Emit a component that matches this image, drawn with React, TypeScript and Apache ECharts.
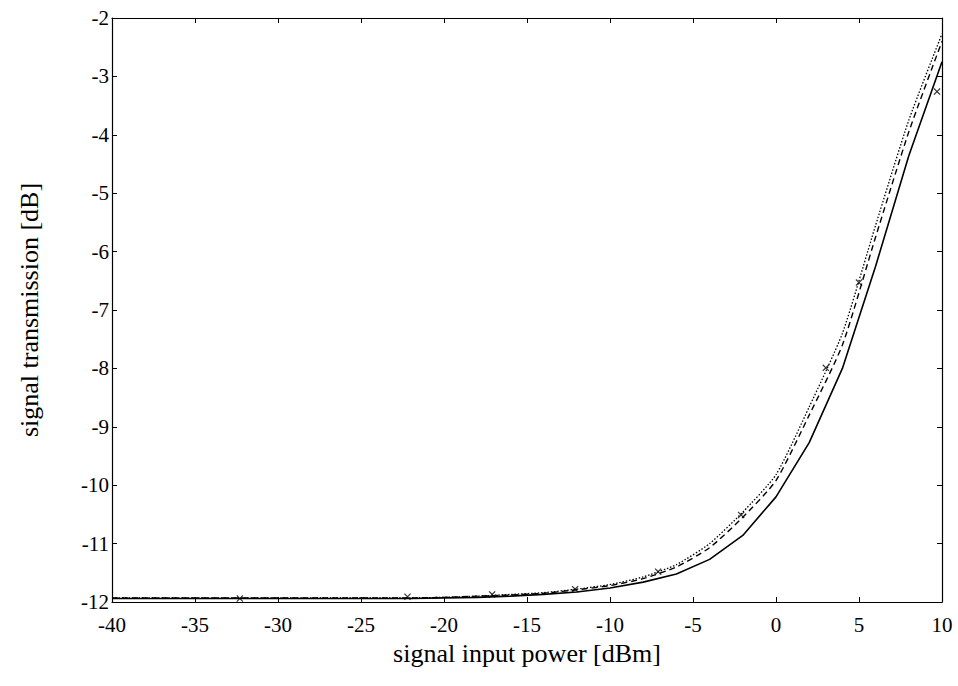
import React, { useEffect, useRef } from "react";
import * as echarts from "echarts";

const xSolid = [-40, -38, -36, -34, -32, -30, -28, -26, -24, -22, -20, -18, -16, -14, -12, -10, -8, -6, -4, -2, 0, 2, 4, 6, 8, 10];
const ySolid = [-11.94, -11.94, -11.94, -11.94, -11.94, -11.94, -11.94, -11.94, -11.94, -11.94, -11.93, -11.92, -11.9, -11.87, -11.83, -11.76, -11.66, -11.52, -11.27, -10.86, -10.2, -9.27, -8.0, -6.25, -4.36, -2.75];
const yDashed = [-11.93, -11.93, -11.93, -11.93, -11.93, -11.93, -11.93, -11.93, -11.93, -11.93, -11.92, -11.9, -11.88, -11.85, -11.79, -11.72, -11.6, -11.4, -11.07, -10.55, -9.92, -8.8, -7.6, -5.75, -3.95, -2.4];
const yDotted = [-11.93, -11.93, -11.93, -11.93, -11.93, -11.93, -11.93, -11.93, -11.93, -11.93, -11.92, -11.9, -11.87, -11.84, -11.78, -11.7, -11.57, -11.36, -11.0, -10.46, -9.82, -8.66, -7.4, -5.55, -3.75, -2.27];
const xMarks = [-32.3, -22.2, -17.1, -12.1, -7.1, -2.1, 3.0, 5.0, 9.7];
const yMarks = [-11.94, -11.91, -11.87, -11.78, -11.48, -10.51, -7.99, -6.53, -3.26];

const xTitle = "signal input power [dBm]";
const yTitle = "signal transmission [dB]";

const FONT = "Liberation Serif";
const cross = "path://M0,1.2L1.2,0L5,3.8L8.8,0L10,1.2L6.2,5L10,8.8L8.8,10L5,6.2L1.2,10L0,8.8L3.8,5Z";

const pairs = (xs: number[], ys: number[]) => xs.map((x, i) => [x, ys[i]]);

export default function App() {
  const ref = useRef<HTMLDivElement>(null);
  useEffect(() => {
    if (!ref.current) return;
    const chart = echarts.init(ref.current, null, { renderer: "svg" });
    const axisCommon = {
      axisLine: { show: true, onZero: false, lineStyle: { color: "#000", width: 1.2 } },
      axisTick: { show: true, inside: true, length: 5, lineStyle: { color: "#000" } },
      splitLine: { show: false },
    };
    chart.setOption({
      animation: false,
      backgroundColor: "#fff",
      grid: { left: 112, right: 16, top: 18, bottom: 84, containLabel: false },
      xAxis: [
        {
          type: "value", min: -40, max: 10, interval: 5, position: "bottom",
          ...axisCommon,
          axisLabel: { color: "#000", fontFamily: FONT, fontSize: 21, margin: 12 },
          name: xTitle, nameLocation: "middle", nameGap: 38,
          nameTextStyle: { color: "#000", fontFamily: FONT, fontSize: 26 },
        },
        {
          type: "value", min: -40, max: 10, interval: 5, position: "top",
          ...axisCommon, axisLabel: { show: false },
        },
      ],
      yAxis: [
        {
          type: "value", min: -12, max: -2, interval: 1, position: "left",
          ...axisCommon,
          axisLabel: { color: "#000", fontFamily: FONT, fontSize: 21, margin: 3 },
          name: yTitle, nameLocation: "middle", nameGap: 70, nameRotate: 90,
          nameTextStyle: { color: "#000", fontFamily: FONT, fontSize: 26 },
        },
        {
          type: "value", min: -12, max: -2, interval: 1, position: "right",
          ...axisCommon, axisLabel: { show: false },
        },
      ],
      series: [
        {
          type: "line", data: pairs(xSolid, ySolid), showSymbol: false, symbol: "none",
          lineStyle: { color: "#000", width: 1.6, type: "solid" },
        },
        {
          type: "line", data: pairs(xSolid, yDashed), showSymbol: false, symbol: "none", smooth: 0.2,
          lineStyle: { color: "#000", width: 1.4, type: [6, 4] },
        },
        {
          type: "line", data: pairs(xSolid, yDotted), showSymbol: false, symbol: "none", smooth: 0.2,
          lineStyle: { color: "#000", width: 1.3, type: [1.5, 1.8] },
        },
        {
          type: "scatter", data: pairs(xMarks, yMarks), symbol: cross, symbolSize: 7,
          itemStyle: { color: "#000" },
        },
      ],
    });
    return () => chart.dispose();
  }, []);
  return <div ref={ref} style={{ position: "fixed", left: 0, top: 0, width: 958, height: 686 }} />;
}
